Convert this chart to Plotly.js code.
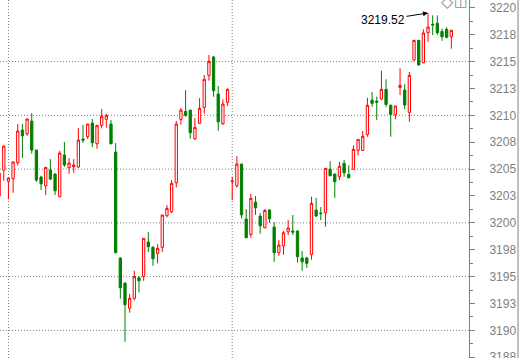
<!DOCTYPE html>
<html><head><meta charset="utf-8">
<script src="https://cdn.plot.ly/plotly-3.0.1.min.js"></script>
<style>html,body{margin:0;padding:0;background:#fff;}#chart{width:520px;height:358px;}</style>
</head><body><div id="chart"></div>
<script>
const opens = [3202.49,3204.91,3203.86,3204.10,3205.59,3208.63,3208.29,3209.47,3206.77,3204.26,
3203.45,3204.91,3204.54,3202.43,3206.31,3205.13,3205.22,3205.19,3207.80,3208.01,
3209.28,3207.36,3209.07,3209.63,3209.19,3206.59,3196.73,3194.40,3192.05,3192.98,
3194.89,3195.02,3198.21,3197.72,3197.16,3197.72,3200.66,3201.03,3203.73,3209.63,
3210.37,3210.49,3207.82,3209.26,3210.74,3213.72,3215.42,3211.98,3209.22,3211.21,
3203.83,3203.45,3205.47,3200.35,3198.93,3201.93,3200.63,3199.54,3201.19,3199.61,
3197.22,3197.87,3199.17,3199.24,3199.24,3196.73,3196.73,3197.07,3201.19,3200.91,
3200.94,3205.00,3204.54,3204.29,3205.53,3204.51,3204.98,3206.74,3206.74,3208.23,
3211.42,3211.33,3211.52,3212.42,3210.93,3210.06,3212.60,3212.35,3210.28,3215.14,
3216.98,3214.89,3217.68,3218.47,3218.56,3217.81,3218.00,3217.31];
const highs = [3204.91,3207.20,3204.23,3205.70,3209.19,3209.19,3209.70,3210.21,3206.80,3204.38,
3205.20,3205.93,3204.60,3206.71,3207.52,3206.03,3205.93,3208.82,3209.10,3209.20,
3209.66,3209.10,3210.59,3210.12,3209.56,3207.42,3196.80,3194.45,3193.38,3195.54,
3195.05,3198.60,3199.14,3197.84,3198.03,3200.75,3201.66,3203.98,3209.47,3210.68,
3212.35,3210.50,3209.75,3211.61,3213.75,3215.61,3215.54,3212.73,3211.49,3212.51,
3204.29,3206.21,3205.50,3201.28,3202.68,3202.49,3200.91,3201.28,3201.28,3200.05,
3198.40,3199.24,3200.26,3200.73,3199.30,3197.38,3196.85,3202.43,3202.31,3201.47,
3205.10,3205.75,3204.60,3205.66,3205.84,3205.35,3207.21,3207.80,3208.54,3211.64,
3212.17,3211.73,3214.15,3213.35,3211.02,3210.90,3214.37,3212.91,3214.03,3217.00,
3217.00,3218.00,3219.52,3219.30,3219.30,3218.06,3218.19,3217.95];
const lows = [3202.40,3203.92,3202.19,3202.80,3205.35,3206.03,3208.07,3206.43,3203.80,3203.05,
3202.59,3203.98,3202.59,3202.40,3205.22,3204.57,3204.66,3205.13,3207.45,3207.80,
3207.05,3206.89,3208.79,3208.85,3207.30,3197.20,3192.94,3188.94,3191.64,3192.79,
3193.53,3194.61,3197.28,3196.01,3196.23,3197.31,3200.51,3200.91,3203.30,3209.13,
3209.87,3207.82,3207.70,3209.20,3210.15,3213.22,3211.73,3208.57,3209.13,3210.89,
3202.12,3203.27,3200.42,3198.60,3198.61,3200.75,3198.99,3199.50,3200.01,3196.38,
3196.94,3197.03,3198.87,3198.87,3196.29,3195.54,3195.82,3196.57,3200.57,3200.26,
3199.64,3204.35,3202.33,3203.98,3204.29,3204.15,3204.95,3206.28,3206.70,3208.01,
3210.80,3209.56,3211.42,3210.77,3208.01,3209.63,3211.89,3210.56,3209.40,3215.10,
3214.65,3214.85,3216.85,3217.47,3217.50,3216.94,3217.16,3216.20];
const closes = [3204.63,3207.14,3204.17,3205.66,3208.54,3208.10,3209.66,3206.77,3203.98,3203.64,
3205.16,3204.07,3202.99,3206.49,3205.38,3205.56,3205.38,3207.70,3207.70,3209.19,
3207.45,3209.07,3209.91,3210.00,3207.36,3197.22,3193.96,3192.38,3192.98,3195.02,
3194.61,3198.56,3197.78,3196.66,3197.63,3200.73,3201.35,3203.67,3209.19,3210.49,
3210.00,3208.38,3208.88,3210.65,3213.35,3215.02,3212.29,3209.40,3211.05,3212.42,
3203.89,3205.47,3200.75,3198.61,3202.28,3201.40,3199.73,3201.16,3200.38,3197.22,
3197.93,3199.08,3199.52,3199.14,3196.85,3196.38,3196.23,3201.81,3200.63,3200.86,
3205.07,3204.38,3203.82,3205.26,3204.66,3204.20,3206.84,3207.77,3208.05,3210.93,
3211.12,3211.21,3212.42,3211.02,3210.09,3210.87,3212.79,3210.96,3213.72,3216.98,
3214.68,3217.66,3218.21,3218.41,3217.68,3217.31,3217.26,3217.91];
const tickVals = [3220,3217.5,3215,3212.5,3210,3207.5,3205,3202.5,3200,3197.5,3195,3192.5,3190,3187.5];
const tickText = ['3220','3218','3215','3213','3210','3208','3205','3203','3200','3198','3195','3193','3190','3188'];
const gridVals = [3215,3210,3205,3200,3195,3190];
const sessionStarts = [2,50];
const toolIcons = ['◇','◫'];

const bars = opens.map((_, i) => i);
let peakIdx = 0;
highs.forEach((h, i) => { if (h > highs[peakIdx]) peakIdx = i; });

const GREY = '#808080';
const dotted = {color: GREY, width: 1, dash: '1px,2px'};
const shapes = [];
gridVals.forEach(v => shapes.push({type:'line', xref:'paper', x0:0, x1:1, yref:'y', y0:v, y1:v, line:dotted, layer:'below'}));
sessionStarts.forEach(i => shapes.push({type:'line', xref:'x', x0:i, x1:i, yref:'paper', y0:0, y1:1, line:dotted, layer:'below'}));
shapes.push({type:'line', xref:'paper', x0:1.1045, x1:1.1045, yref:'paper', y0:0, y1:1, line:{color:GREY, width:1}});

const trace = {
  type:'candlestick', x:bars, open:opens, high:highs, low:lows, close:closes,
  increasing:{line:{color:'#ff0000', width:1}, fillcolor:'#ffffff'},
  decreasing:{line:{color:'#008000', width:1}, fillcolor:'#008000'},
  whiskerwidth:0, hoverinfo:'skip', showlegend:false
};

const annotations = [{x:peakIdx, y:highs[peakIdx], xref:'x', yref:'y', text:highs[peakIdx].toFixed(2),
    showarrow:true, arrowhead:2, arrowsize:1, arrowwidth:1, arrowcolor:'#000000', ax:-45, ay:7, standoff:0,
    font:{size:12, color:'#000000', family:'"Liberation Sans", Arial, sans-serif'}}];
annotations.push({xref:'paper', yref:'paper', x:447.5/469, y:1, xanchor:'center', yanchor:'middle', yshift:-1,
  text:toolIcons[0], showarrow:false, font:{size:16, color:'#8c8c8c', family:'"DejaVu Sans", sans-serif'}});
annotations.push({xref:'paper', yref:'paper', x:460.5/469, y:1, xanchor:'center', yanchor:'middle', yshift:-1,
  text:toolIcons[1], showarrow:false, font:{size:15, color:'#8c8c8c', family:'"DejaVu Sans", sans-serif'}});

const layout = {
  width:520, height:358, margin:{l:0, r:51, t:0, b:0},
  paper_bgcolor:'#ffffff', plot_bgcolor:'#ffffff', showlegend:false,
  font:{family:'"Liberation Sans", Arial, sans-serif', size:12, color:GREY},
  xaxis:{range:[0.19,100.79], showgrid:false, zeroline:false, showticklabels:false, ticks:'', showline:false, rangeslider:{visible:false}, fixedrange:true},
  yaxis:{side:'right', range:[3187.43,3220.73], tickmode:'array', tickvals:tickVals, ticktext:tickText,
    ticks:'outside', ticklen:5, tickwidth:1, tickcolor:GREY, showline:true, linecolor:GREY, linewidth:1,
    showgrid:false, zeroline:false, ticklabelstandoff:12, ticklabeloverflow:'allow', tickfont:{size:12, color:GREY},
    minor:{tickmode:'linear', tick0:3188.75, dtick:2.5, ticks:'outside', ticklen:3, tickwidth:1, tickcolor:GREY, showgrid:false}},
  shapes:shapes,
  annotations:annotations
};
Plotly.newPlot('chart', [trace], layout, {staticPlot:true, displayModeBar:false});
</script></body></html>
